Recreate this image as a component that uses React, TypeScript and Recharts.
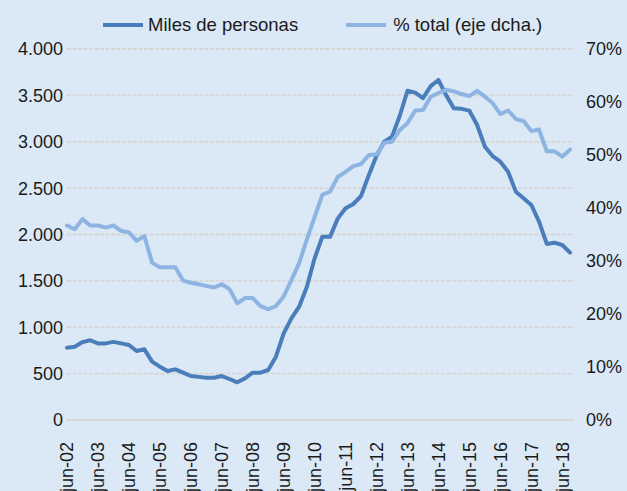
import React from 'react';
import { LineChart, Line, XAxis, YAxis, CartesianGrid, Legend } from 'recharts';

const quarters = [
  'jun-02', 'sep-02', 'dic-02',
  'mar-03', 'jun-03', 'sep-03', 'dic-03',
  'mar-04', 'jun-04', 'sep-04', 'dic-04',
  'mar-05', 'jun-05', 'sep-05', 'dic-05',
  'mar-06', 'jun-06', 'sep-06', 'dic-06',
  'mar-07', 'jun-07', 'sep-07', 'dic-07',
  'mar-08', 'jun-08', 'sep-08', 'dic-08',
  'mar-09', 'jun-09', 'sep-09', 'dic-09',
  'mar-10', 'jun-10', 'sep-10', 'dic-10',
  'mar-11', 'jun-11', 'sep-11', 'dic-11',
  'mar-12', 'jun-12', 'sep-12', 'dic-12',
  'mar-13', 'jun-13', 'sep-13', 'dic-13',
  'mar-14', 'jun-14', 'sep-14', 'dic-14',
  'mar-15', 'jun-15', 'sep-15', 'dic-15',
  'mar-16', 'jun-16', 'sep-16', 'dic-16',
  'mar-17', 'jun-17', 'sep-17', 'dic-17',
  'mar-18', 'jun-18', 'sep-18',
];

const milesPersonas = [
  780, 790, 840, 860, 826, 826, 842, 826, 809, 744,
  762, 629, 575, 528, 546, 510, 474, 465, 456, 456,
  474, 442, 406, 449, 510, 510, 539, 683, 934, 1096,
  1222, 1437, 1743, 1977, 1977, 2174, 2282, 2329, 2415, 2640,
  2850, 3001, 3055, 3280, 3550, 3530, 3470, 3600, 3666, 3500,
  3360, 3355, 3335, 3181, 2947, 2846, 2785, 2677, 2462, 2390,
  2318, 2138, 1898, 1912, 1887, 1804,
];

const pctTotal = [
  36.7, 36.0, 37.9, 36.7, 36.7, 36.3, 36.7, 35.7, 35.4, 33.8,
  34.7, 29.7, 28.8, 28.8, 28.8, 26.3, 25.9, 25.6, 25.3, 25.0,
  25.6, 24.7, 22.0, 23.0, 23.0, 21.5, 20.9, 21.5, 23.3, 26.4,
  29.6, 34.1, 38.3, 42.5, 43.1, 45.9, 46.8, 47.9, 48.3, 50.0,
  50.1, 52.3, 52.5, 54.7, 56.0, 58.4, 58.5, 61.0, 61.7, 62.3,
  62.0, 61.5, 61.1, 62.1, 61.0, 59.8, 57.7, 58.4, 56.8, 56.4,
  54.5, 54.8, 50.7, 50.7, 49.7, 51.0,
];

const leftTicks = [0, 500, 1000, 1500, 2000, 2500, 3000, 3500, 4000];
const rightTicks = [0, 10, 20, 30, 40, 50, 60, 70];

const seriesNames = ['Miles de personas', '% total (eje dcha.)'];
const DARK = '#4a7ebb';
const LIGHT = '#8db4e2';
const BG = '#dbe8f5';
const TEXT = '#1a1a1a';
const GRID = '#d6d6d6';

const data = quarters.map((q, i) => ({ q, miles: milesPersonas[i], pct: pctTotal[i] }));

const fmtThousands = (v: number) => String(v).replace(/\B(?=(\d{3})+(?!\d))/g, '.');

const XTick = (props: any) => {
  const { x, y, payload } = props;
  const ty = y + 22;
  return (
    <text
      x={x}
      y={ty}
      transform={`rotate(-90 ${x} ${ty})`}
      textAnchor="end"
      dy="0.35em"
      fill={TEXT}
      fontSize={18}
    >
      {payload.value}
    </text>
  );
};

const LegendContent = () => (
  <div style={{ display: 'flex', alignItems: 'center', paddingLeft: 103, fontSize: 18.5, color: TEXT, lineHeight: '21px' }}>
    <span style={{ display: 'inline-block', width: 40, height: 4, background: DARK, marginRight: 5 }} />
    <span style={{ marginRight: 48 }}>{seriesNames[0]}</span>
    <span style={{ display: 'inline-block', width: 40, height: 4, background: LIGHT, marginRight: 7 }} />
    <span>{seriesNames[1]}</span>
  </div>
);

export default function App() {
  return (
    <div
      style={{
        position: 'absolute',
        left: 0,
        top: 0,
        width: 627,
        height: 491,
        background: BG,
        fontFamily: '"Liberation Sans", Arial, Helvetica, sans-serif',
        overflow: 'hidden',
      }}
    >
      <LineChart width={627} height={491} data={data} margin={{ top: 49, right: 0, bottom: 0, left: 0 }}>
        <CartesianGrid
          yAxisId="left"
          vertical={false}
          stroke={GRID}
          strokeWidth={1.8}
          strokeDasharray="4 1.5"
        />
        <XAxis
          dataKey="q"
          interval={3}
          height={71}
          tickLine={false}
          tickSize={0}
          tickMargin={0}
          axisLine={{ stroke: GRID, strokeWidth: 1.5 }}
          tick={<XTick />}
          padding={{ left: 0, right: 4 }}
        />
        <YAxis
          yAxisId="left"
          orientation="left"
          width={67}
          domain={[0, 4000]}
          ticks={leftTicks}
          tickFormatter={fmtThousands}
          axisLine={false}
          tickLine={false}
          tickSize={0}
          tickMargin={4}
          tick={{ fill: TEXT, fontSize: 18 }}
          interval={0}
        />
        <YAxis
          yAxisId="right"
          orientation="right"
          width={53}
          domain={[0, 70]}
          ticks={rightTicks}
          tickFormatter={(v: number) => `${v}%`}
          axisLine={false}
          tickLine={false}
          tickSize={0}
          tickMargin={12}
          tick={{ fill: TEXT, fontSize: 18 }}
          interval={0}
        />
        <Legend
          verticalAlign="middle"
          align="center"
          layout="horizontal"
          wrapperStyle={{ top: 14, left: 0, width: 627 }}
          content={<LegendContent />}
        />
        <Line
          yAxisId="left"
          type="linear"
          dataKey="miles"
          name={seriesNames[0]}
          stroke={DARK}
          strokeWidth={4}
          dot={false}
          strokeLinejoin="round"
          strokeLinecap="round"
          isAnimationActive={false}
        />
        <Line
          yAxisId="right"
          type="linear"
          dataKey="pct"
          name={seriesNames[1]}
          stroke={LIGHT}
          strokeWidth={4}
          dot={false}
          strokeLinejoin="round"
          strokeLinecap="round"
          isAnimationActive={false}
        />
      </LineChart>
    </div>
  );
}
